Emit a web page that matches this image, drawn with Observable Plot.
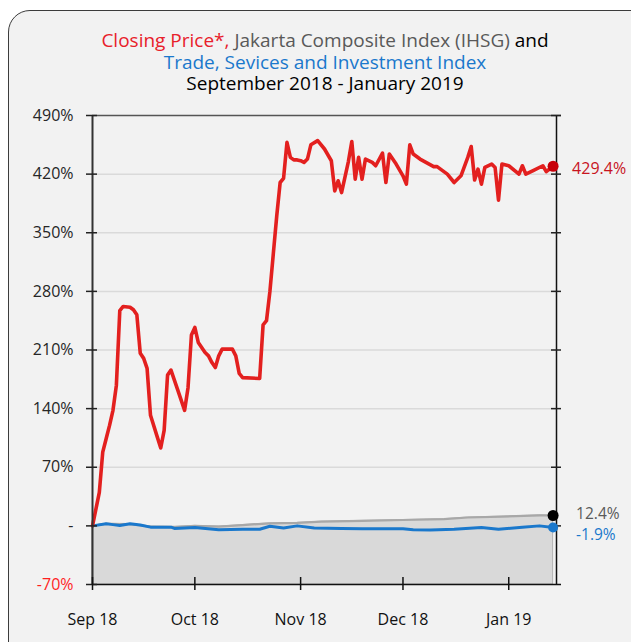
<!DOCTYPE html>
<html>
<head>
<meta charset="utf-8">
<script src="https://cdn.jsdelivr.net/npm/d3@7"></script>
<script src="https://cdn.jsdelivr.net/npm/@observablehq/plot@0.6"></script>
<style>
  html, body { margin: 0; padding: 0; background: #ffffff; width: 631px; height: 642px; overflow: hidden; }
  #frame { position: absolute; left: 8px; top: 10px; width: 660px; height: 680px; background: #f2f2f2;
           border: 1.5px solid #3c3c3c; border-radius: 22px; box-sizing: border-box; }
  #title { position: absolute; left: 0; top: 30px; width: 650px; text-align: center;
           font-family: "Open Sans", sans-serif; font-size: 19px; line-height: 21.7px; color: #000; }
  #chart { position: absolute; left: 0; top: 0; }
</style>
</head>
<body>
<div id="frame"></div>
<div id="title">
  <span style="color:#e8202a">Closing Price*,</span> <span style="color:#595959">Jakarta Composite Index (IHSG)</span> and<br>
  <span style="color:#1a78cc">Trade, Sevices and Investment Index</span><br>
  September 2018 - January 2019
</div>
<div id="chart"></div>
<script>
// ---- data ----
const redDates = ["2018-09-01","2018-09-03","2018-09-04","2018-09-05","2018-09-06","2018-09-07","2018-09-08","2018-09-09","2018-09-10","2018-09-12","2018-09-13","2018-09-14","2018-09-15","2018-09-16","2018-09-17","2018-09-18","2018-09-20","2018-09-21","2018-09-22","2018-09-23","2018-09-24","2018-09-26","2018-09-28","2018-09-29","2018-09-30",
"2018-10-01","2018-10-02","2018-10-04","2018-10-05","2018-10-06","2018-10-07","2018-10-08","2018-10-09","2018-10-12","2018-10-13","2018-10-14","2018-10-15","2018-10-20","2018-10-21","2018-10-22","2018-10-23","2018-10-24","2018-10-25","2018-10-26","2018-10-27","2018-10-28","2018-10-29","2018-10-30","2018-10-31",
"2018-11-01","2018-11-02","2018-11-03","2018-11-04","2018-11-06","2018-11-08","2018-11-10","2018-11-11","2018-11-12","2018-11-13","2018-11-15","2018-11-16","2018-11-17","2018-11-18","2018-11-19","2018-11-20","2018-11-22","2018-11-23","2018-11-25","2018-11-26","2018-11-27","2018-11-29",
"2018-12-01","2018-12-02","2018-12-03","2018-12-04","2018-12-06","2018-12-10","2018-12-11","2018-12-14","2018-12-16","2018-12-18","2018-12-20","2018-12-21","2018-12-22","2018-12-23","2018-12-24","2018-12-25","2018-12-27","2018-12-28","2018-12-29","2018-12-30",
"2019-01-01","2019-01-04","2019-01-05","2019-01-06","2019-01-08","2019-01-11","2019-01-12","2019-01-14"];
const redValues = [0,40,88,104,120,138,168,257,262,261,258,252,206,200,188,132,106,93,114,180,186,162,138,165,228,
237,219,207,203,195,189,203,211,211,203,182,177,176,240,245,280,325,370,410,415,458,440,437,437,
436,434,438,455,460,450,436,400,412,398,435,459,414,440,414,438,434,430,445,410,444,432,
418,408,455,444,438,429,429,420,410,418,440,453,413,426,408,428,432,428,389,432,
430,420,430,420,424,430,423,429.4];

const blueDates = ["2018-09-01","2018-09-05","2018-09-07","2018-09-09","2018-09-12","2018-09-15","2018-09-18","2018-09-24","2018-09-25","2018-10-01","2018-10-08","2018-10-15","2018-10-20","2018-10-23","2018-10-27","2018-10-31","2018-11-05","2018-11-13","2018-11-19","2018-12-01","2018-12-04","2018-12-09","2018-12-16","2018-12-24","2018-12-29","2019-01-05","2019-01-10","2019-01-14"];
const blueValues = [0,2.5,1.5,0.5,2.5,1,-1.5,-1.5,-3,-2,-4.5,-4,-4,-0.5,-2.5,0,-2.5,-3,-3.5,-3.5,-4.5,-5,-4,-2,-4,-1.5,0,-1.9];

const grayDates = ["2018-09-01","2018-09-05","2018-09-12","2018-09-18","2018-09-25","2018-10-01","2018-10-08","2018-10-15","2018-10-23","2018-10-31","2018-11-07","2018-11-19","2018-12-01","2018-12-13","2018-12-20","2018-12-30","2019-01-10","2019-01-14"];
const grayValues = [0,2.5,2,-1,-1.5,0,-1,1,3,3.5,5,6,7,8,10,11,12.5,12.4];

const yTicks = [-70, 0, 70, 140, 210, 280, 350, 420, 490];
const xTicks = ["2018-09-01","2018-10-01","2018-11-01","2018-12-01","2019-01-01"];
const xDomain = ["2018-09-01","2019-01-15"];

// ---- build tables ----
const toRows = (ds, vs) => ds.map((d, i) => ({date: new Date(d), v: vs[i]}));
const red = toRows(redDates, redValues);
const blue = toRows(blueDates, blueValues);
const gray = toRows(grayDates, grayValues);
const lastRed = red[red.length - 1], lastBlue = blue[blue.length - 1], lastGray = gray[gray.length - 1];
const x0 = new Date(xDomain[0]), x1 = new Date(xDomain[1]);
const xt = xTicks.map(d => new Date(d));
const fmtY = v => v === 0 ? "-" : v + "%";
const fmtPct = v => v.toFixed(1) + "%";

const chart = Plot.plot({
  width: 631, height: 642,
  marginLeft: 92, marginRight: 75, marginTop: 115, marginBottom: 58,
  style: {background: "transparent", fontFamily: "'Open Sans', sans-serif", fontSize: "16px"},
  x: {type: "utc", domain: [x0, x1], label: null},
  y: {domain: [-70, 490], label: null},
  marks: [
    Plot.ruleY(yTicks.filter(v => v > -70 && v < 490), {stroke: "#dadada", strokeWidth: 1.5}),
    Plot.areaY(gray, {x: "date", y1: -70, y2: "v", fill: "#d9d9d9", stroke: "#b5b5b5", strokeWidth: 1}),
    Plot.line(gray, {x: "date", y: "v", stroke: "#a8a8a8", strokeWidth: 2.2}),
    Plot.line(blue, {x: "date", y: "v", stroke: "#1a78cc", strokeWidth: 3, strokeLinejoin: "round"}),
    Plot.line(red, {x: "date", y: "v", stroke: "#e3201f", strokeWidth: 3.6, strokeLinejoin: "round", strokeLinecap: "round"}),
    // frame lines
    Plot.ruleY([490], {stroke: "#555", strokeWidth: 1.5, insetRight: -5}),
    Plot.ruleY([-70], {stroke: "#111", strokeWidth: 1.5, insetRight: -5}),
    Plot.ruleX([x0], {stroke: "#333", strokeWidth: 2}),
    Plot.ruleX([x1], {stroke: "#111", strokeWidth: 1.5}),
    // crossing ticks
    Plot.ruleY(yTicks, {x1: () => x0, x2: () => x0, insetLeft: -6, insetRight: -5, stroke: "#222", strokeWidth: 1.5}),
    Plot.ruleY(yTicks.filter(v => v > -70), {x1: () => x1, x2: () => x1, insetLeft: -5, insetRight: -5, stroke: "#222", strokeWidth: 1.5}),
    Plot.ruleX(xt, {y1: () => -70, y2: () => -70, insetTop: 6, insetBottom: 7, stroke: "#111", strokeWidth: 1.5}),
    // axes labels
    Plot.axisY(yTicks.filter(v => v > -70), {tickSize: 0, tickPadding: 19, tickFormat: fmtY, fill: "#262626", fontSize: 16, label: null}),
    Plot.axisY([-70], {tickSize: 0, tickPadding: 19, tickFormat: fmtY, fill: "#ff1f1f", fontSize: 16, label: null}),
    Plot.axisX(xt, {tickSize: 0, tickPadding: 29, tickFormat: d3.utcFormat("%b %y"), fill: "#111", fontSize: 16, label: null}),
    // end dots and labels
    Plot.dot([lastGray], {x: "date", y: "v", r: 5.5, fill: "#000"}),
    Plot.dot([lastBlue], {x: "date", y: "v", r: 5, fill: "#1a78cc"}),
    Plot.dot([lastRed], {x: "date", y: "v", r: 5.5, fill: "#c8000a"}),
    Plot.text([lastRed], {x: "date", y: "v", text: d => fmtPct(d.v), dx: 19, dy: 3, textAnchor: "start", fill: "#c8141e", fontSize: 16}),
    Plot.text([lastGray], {x: "date", y: "v", text: d => fmtPct(d.v), dx: 23, dy: -1, textAnchor: "start", fill: "#595959", fontSize: 15.5}),
    Plot.text([lastBlue], {x: "date", y: "v", text: d => fmtPct(d.v), dx: 23, dy: 8, textAnchor: "start", fill: "#1a78cc", fontSize: 15.5})
  ]
});
document.getElementById("chart").appendChild(chart);
</script>
</body>
</html>
